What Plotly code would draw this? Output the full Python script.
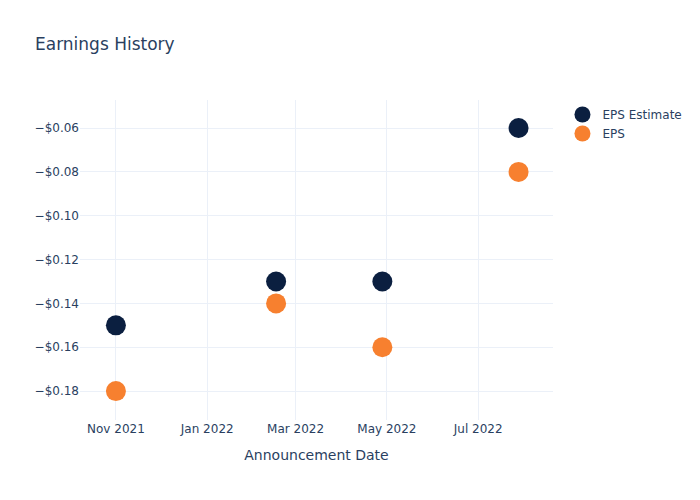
import plotly.graph_objects as go

dates = ["2021-11-01", "2022-02-16", "2022-04-28", "2022-07-28"]
eps_estimate = [-0.15, -0.13, -0.13, -0.06]
eps_actual = [-0.18, -0.14, -0.16, -0.08]

fig = go.Figure()
fig.add_trace(go.Scatter(x=dates, y=eps_estimate, mode="markers", name="EPS Estimate",
                         marker=dict(size=20, color="#0b1f40")))
fig.add_trace(go.Scatter(x=dates, y=eps_actual, mode="markers", name="EPS",
                         marker=dict(size=20, color="#f7802f")))

fig.update_layout(
    template="plotly_white",
    width=700, height=500,
    font=dict(family="DejaVu Sans", color="#2a3f5f"),
    title=dict(text="Earnings History", x=0.05),
    margin=dict(l=80, r=147, t=100, b=80),
    xaxis=dict(title=dict(text="Announcement Date"), range=["2021-10-08", "2022-08-20"],
               dtick="M2", tickformat="%b %Y"),
    yaxis=dict(tickformat="$.2f", range=[-0.1932, -0.0472], dtick=0.02),
)
fig.write_html("out.html")
